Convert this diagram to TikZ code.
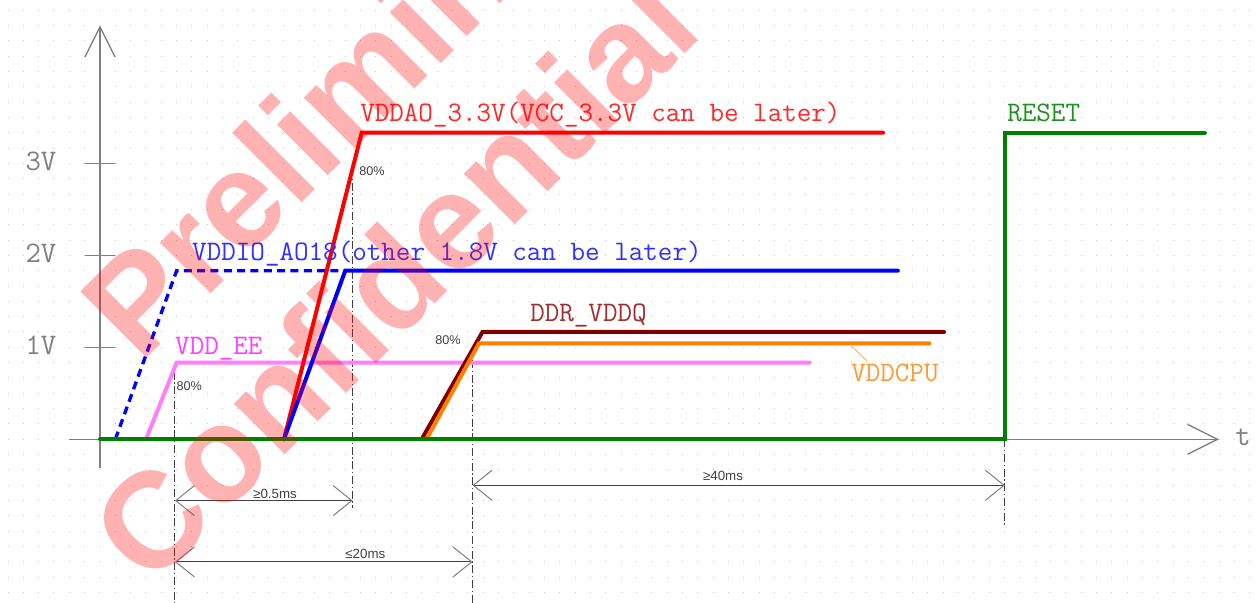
\documentclass[tikz,border=0pt]{standalone}
\usepackage{fontspec}
\newfontfamily\sansfont{Liberation Sans}
\usetikzlibrary{arrows.meta}

\definecolor{sigred}{HTML}{FF0000}
\definecolor{sigblue}{HTML}{0000FF}
\definecolor{sigpink}{HTML}{FF80FF}
\definecolor{sigmaroon}{HTML}{800000}
\definecolor{sigorange}{HTML}{FF8000}
\definecolor{siggreen}{HTML}{008000}
\definecolor{labred}{HTML}{FF2828}
\definecolor{labblue}{HTML}{3030FF}
\definecolor{labpink}{HTML}{FF40FF}
\definecolor{labmaroon}{HTML}{A03030}
\definecolor{labgreen}{HTML}{209020}
\definecolor{laborange}{HTML}{FF9933}
\definecolor{axisgray}{HTML}{808080}
\definecolor{dimgray}{HTML}{404040}
\definecolor{gridgray}{HTML}{C8C8C8}

\begin{document}
\begin{tikzpicture}[x=11.5pt,y=11.5pt,
  griddot/.style={draw=gridgray,line width=0.75pt,dash pattern=on 0.75pt off 10.75pt},
  axis/.style={draw=axisgray,line width=1pt},
  wave/.style={line width=3pt,line cap=round},
  marker/.style={draw=dimgray,line width=0.75pt,dash pattern=on 6pt off 2pt on 1pt off 2pt},
  dim/.style={draw=dimgray,line width=0.75pt,
    {Straight Barb[length=14pt,width=22.5pt,color=axisgray]}-{Straight Barb[length=14pt,width=22.5pt,color=axisgray]}},
  sig/.style={anchor=base west,inner sep=0pt,font=\ttfamily\fontsize{21.2}{23}\selectfont},
  volt/.style={anchor=base,inner sep=0pt,text=axisgray,font=\ttfamily\fontsize{22.4}{24}\selectfont},
  pct/.style={inner sep=0pt,text=dimgray,font=\sansfont\fontsize{9.5}{11}\selectfont},
  span/.style={anchor=base,inner sep=0pt,text=dimgray,font=\sansfont\fontsize{10}{12}\selectfont},
  stamp/.style={anchor=base west,rotate=45,inner sep=0pt,text=red,text opacity=0.3,
    font=\sansfont\bfseries\fontsize{102}{106}\selectfont}]
 \useasboundingbox (-6.523,-10.678) rectangle (75.54,28.657);
 \fill[white] (-6.523,-10.678) rectangle (75.54,28.657);
 % dotted grid
 \foreach \j in {-10,...,28}
  \draw[griddot] (-6.033,\j) -- (75.5,\j);
 % axes
 \draw[axis,-{Straight Barb[length=22.5pt,width=22.5pt]}] (0,-1.9) -- (0,27);
 \draw[axis,-{Straight Barb[length=22.5pt,width=22.5pt]}] (-2,0) -- (73,0);
 \node[volt] (t) at (74.56,-0.42) {t};
 \foreach \v in {1,2,3} {
  \draw[axis] (-1,6*\v) -- (1,6*\v);
  \node[volt] (volt\v) at (-3.85,6*\v-0.45) {\v V};
 }
 % markers
 \coordinate (ee80) at (4.89,0);
 \coordinate (ao80) at (16.48,0);
 \coordinate (ddr80) at (24.3,0);
 \coordinate (rst) at (59.03,0);
 \draw[marker] (4.89,4.41) -- (4.89,-10.7);
 \draw[marker] (16.48,17.7) -- (16.48,-4.48);
 \draw[marker] (24.3,5.17) -- (24.3,-10.7);
 \draw[marker] (rst) -- (59.03,-5.7);
 % supplies
 \draw[wave,sigpink] (3,0) -- (5,5) -- (46.3,5);
 \draw[wave,sigblue,line width=2.5pt,line cap=butt,dash pattern=on 6pt off 4pt] (1,0) -- (5,11) -- (16,11);
 \draw[wave,sigred] (12,0) -- (17.07,20) -- (51.08,20);
 \draw[wave,sigblue] (12,0) -- (16,11) -- (52.05,11);
 \draw[wave,sigmaroon] (20.98,0) -- (24.95,7) -- (55.06,7);
 \draw[wave,sigorange] (21.3,0) -- (24.72,6.25) -- (54.1,6.25);
 \draw[wave,siggreen] (0,0) -- (59.03,0) -- (59.03,20) -- (72.08,20);
 % names
 \node[sig,text=labred] (vddao) at (16.96,20.72) {VDDAO\_3.3V(VCC\_3.3V can be later)};
 \node[sig,text=labblue] (vddio) at (6.0,11.69) {VDDIO\_AO18(other 1.8V can be later)};
 \node[sig,text=labpink] (vddee) at (4.89,5.56) {VDD\_EE};
 \node[sig,text=labmaroon] (ddr) at (28.05,7.67) {DDR\_VDDQ};
 \node[sig,text=labgreen] (reset) at (59.17,20.72) {RESET};
 \node[sig,text=laborange] (cpu) at (48.99,3.76) {VDDCPU};
 \coordinate (cpuline) at (49.0,6.1);
 \draw[laborange!70,line width=0.75pt] (cpuline) -- (50.02,5.12);
 \node[pct,anchor=west] (pee) at (4.98,3.48) {80\%};
 \node[pct,anchor=west] (pao) at (16.9,17.5) {80\%};
 \node[pct,anchor=east] (pddr) at (23.55,6.48) {80\%};
 % timings
 \coordinate (a1) at (4.89,-4);   \coordinate (b1) at (16.48,-4);
 \coordinate (a2) at (4.89,-8);   \coordinate (b2) at (24.3,-8);
 \coordinate (a3) at (24.3,-3);   \coordinate (b3) at (59.03,-3);
 \draw[dim] (a1) -- (b1);
 \draw[dim] (a2) -- (b2);
 \draw[dim] (a3) -- (b3);
 \node[span] (d1) at (11.42,-3.83) {≥0.5ms};
 \node[span] (d2) at (17.31,-7.76) {≤20ms};
 \node[span] (d3) at (40.64,-2.72) {≥40ms};
 % watermark
 \node[stamp] (prelim) at (2.61,4.89) {Preliminary};
 \node[stamp] (confid) at (3.26,-9.79) {Confidential};
\end{tikzpicture}
\end{document}
